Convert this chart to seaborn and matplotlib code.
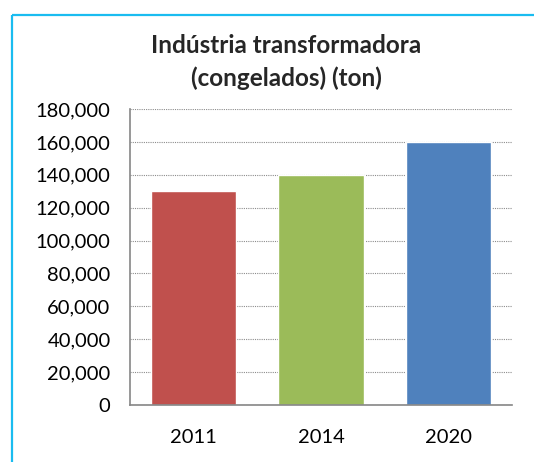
import matplotlib
matplotlib.use("Agg")
import matplotlib.pyplot as plt
import matplotlib.lines as mlines
import matplotlib.ticker as mticker
import seaborn as sns
import pandas as pd

years = ["2011", "2014", "2020"]
values = [130000, 140000, 160000]
colors = ["#C0504D", "#9BBB59", "#4F81BD"]
title = "Indústria transformadora\n(congelados) (ton)"
yticks = [0, 20000, 40000, 60000, 80000, 100000, 120000, 140000, 160000, 180000]

df = pd.DataFrame({"year": years, "value": values})

sns.set_theme(style="white")
plt.rcParams['font.family'] = ['Lato', 'DejaVu Sans']

W, H = 534, 462
fig = plt.figure(figsize=(W / 100, H / 100), dpi=100)
ax = fig.add_axes([130 / W, 1 - 405 / H, (512 - 130) / W, (405 - 109) / H])

sns.barplot(data=df, x="year", y="value", hue="year", palette=colors,
            width=0.67, legend=False, ax=ax, saturation=1)

ax.set_ylim(0, 180000)
ax.set_yticks(yticks)
ax.yaxis.set_major_formatter(mticker.FuncFormatter(lambda v, p: f"{int(v):,}"))
ax.set_xlabel("")
ax.set_ylabel("")
ax.grid(axis="y", linestyle=(0, (1, 1)), color="#8c8c8c", linewidth=0.8)
ax.set_axisbelow(True)
for s in ["top", "right"]:
    ax.spines[s].set_visible(False)
for s in ["left", "bottom"]:
    ax.spines[s].set_color("#868686")
    ax.spines[s].set_linewidth(1.2)
ax.tick_params(axis="both", length=0, labelsize=14.5, colors="black")
ax.tick_params(axis="y", pad=14)
ax.tick_params(axis="x", pad=17)

fig.text(286 / W, 1 - 62 / H, title, ha="center", va="center",
         fontsize=17.5, fontweight="bold", linespacing=1.5)

ytop = 1 - 14.5 / H
xl = 11.5 / W
top = mlines.Line2D([xl, 1.0], [ytop, ytop], transform=fig.transFigure,
                    color="#1ABCF0", linewidth=1.6, solid_capstyle="butt")
left = mlines.Line2D([xl, xl], [0.0, ytop], transform=fig.transFigure,
                     color="#1ABCF0", linewidth=1.6, solid_capstyle="butt")
fig.lines.extend([top, left])

fig.savefig("out.png", dpi=100)
